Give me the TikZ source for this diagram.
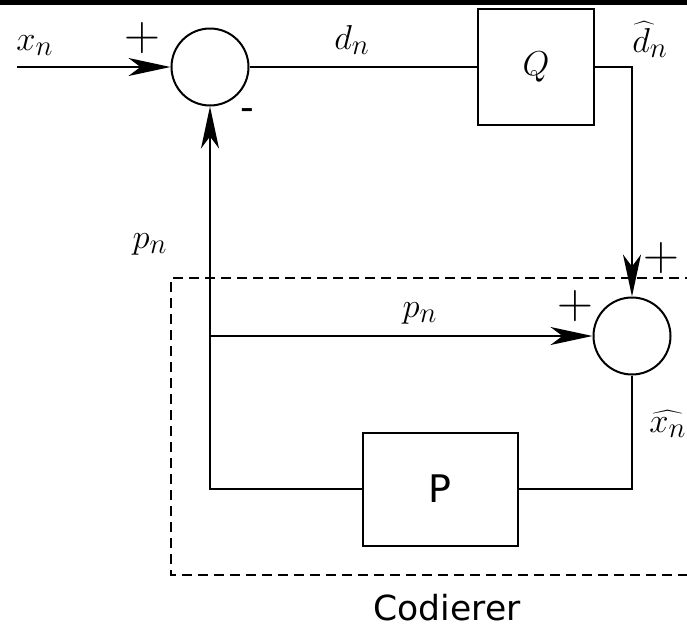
\documentclass[tikz,border=0pt]{standalone}
\usepackage{fontspec}
\newfontfamily\verafont{DejaVu Sans}
\usetikzlibrary{arrows.meta}

\begin{document}
\begin{tikzpicture}[x=0.5pt,y=-0.5pt,
  sumnode/.style={circle,draw,line width=1pt,minimum size=38.5pt,inner sep=0pt},
  blockbox/.style={draw,line width=1pt,inner sep=0pt},
  sig/.style={line width=1pt},
  sigarrow/.style={sig,-{Stealth[length=21pt,width=9pt,inset=6pt]}},
  lbl/.style={font=\fontsize{19}{23}\selectfont,inner sep=0pt},
  sign/.style={font=\fontsize{25}{30}\selectfont,inner sep=0pt}]

\useasboundingbox (0,0) rectangle (687,627);
\fill (0,0) rectangle (687,5);

% blocks
\node[sumnode] (S1) at (210,67) {};
\node[sumnode] (S2) at (632,336) {};
\node[blockbox,minimum width=58pt,minimum height=58pt,lbl] (Q) at (536,67) {$Q$};
\node[blockbox,minimum width=77.5pt,minimum height=56.5pt,lbl] (P) at (440,489) {\verafont P};

\coordinate (IN) at (17,67);
\coordinate (QR) at (632,67);
\coordinate (PR) at (632,489);
\coordinate (PL) at (210,489);
\coordinate (BR) at (210,336);

% signal lines
\draw[sigarrow] (IN) -- (S1);
\draw[sig] (S1) -- (Q);
\draw[sigarrow] (Q) -- (QR) -- (S2);
\draw[sig] (S2) -- (PR) -- (P);
\draw[sigarrow] (P) -- (PL) -- (S1);
\draw[sigarrow] (BR) -- (S2);

% coder frame
\draw[dashed,line width=0.75pt,dash pattern=on 5pt off 3pt] (695,278) -- (171,278) -- (171,575) -- (695,575);

% labels
\node[lbl,anchor=base west] (xn) at (16,50) {$x_n$};
\node[lbl,anchor=base] (dn) at (352,49) {$d_n$};
\node[lbl,anchor=base west] (dhat) at (632,52) {$\widehat{d\,}\!_n$};
\node[lbl,anchor=base] (pn1) at (150,248) {$p_n$};
\node[lbl,anchor=base] (pn2) at (420,317) {$p_n$};
\node[lbl,anchor=base west] (xhat) at (649,432) {$\widehat{x_n}$};
\node[sign] (plus1) at (142,38) {$+$};
\node[sign] (plus2) at (661,258) {$+$};
\node[sign] (plus3) at (575,306) {$+$};
\node[lbl] (minus) at (247,115) {\verafont -};
\node[lbl,font=\LARGE] (coder) at (447,608) {\verafont Codierer};

\end{tikzpicture}
\end{document}
